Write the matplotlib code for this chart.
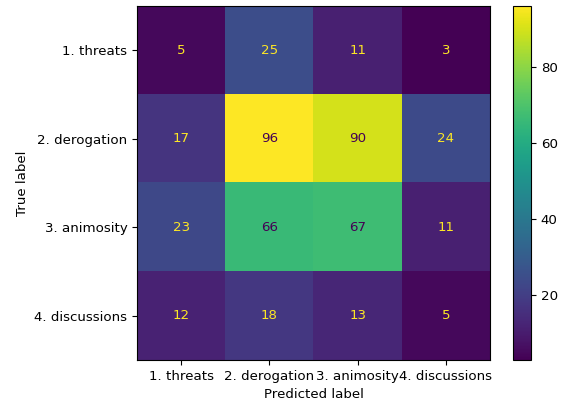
import numpy as np
import matplotlib
matplotlib.use("Agg")
import matplotlib.pyplot as plt

plt.rcParams["font.size"] = 9.6

# Class names and confusion counts (rows = true, cols = predicted)
labels = ["1. threats", "2. derogation", "3. animosity", "4. discussions"]
row_threats = [5, 25, 11, 3]
row_derogation = [17, 96, 90, 24]
row_animosity = [23, 66, 67, 11]
row_discussions = [12, 18, 13, 5]

cm = np.array([row_threats, row_derogation, row_animosity, row_discussions])

fig = plt.figure(figsize=(5.64, 4.05), dpi=100)
ax = fig.add_axes([137 / 564, 1 - 360 / 405, 353 / 564, 354 / 405])
cax = fig.add_axes([513 / 564, 1 - 360 / 405, 18 / 564, 354 / 405])

cmap = plt.get_cmap("viridis")
im = ax.imshow(cm, interpolation="nearest", cmap=cmap, aspect="auto")
fig.colorbar(im, cax=cax)

# Text colour flips depending on cell brightness
thresh = (cm.max() + cm.min()) / 2.0
cmap_min, cmap_max = cmap(0.0), cmap(1.0)
for i in range(cm.shape[0]):
    for j in range(cm.shape[1]):
        color = cmap_max if cm[i, j] < thresh else cmap_min
        ax.text(j, i, str(cm[i, j]), ha="center", va="center", color=color)

ax.set_xticks(np.arange(len(labels)))
ax.set_yticks(np.arange(len(labels)))
ax.set_xticklabels(labels)
ax.set_yticklabels(labels)
ax.set_xlabel("Predicted label")
ax.set_ylabel("True label")

fig.savefig("out.png", dpi=100)
